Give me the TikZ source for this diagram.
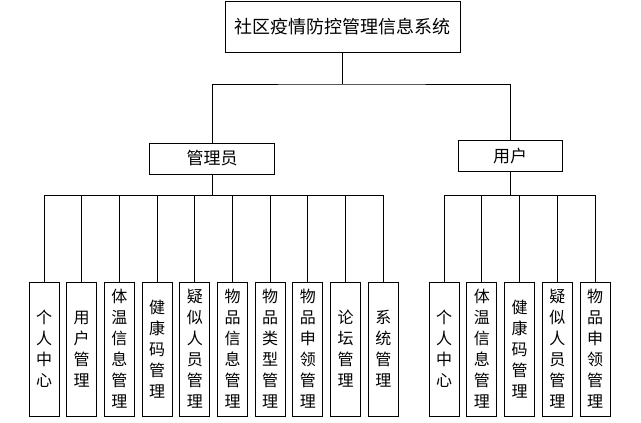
\documentclass[tikz,border=0pt]{standalone}
\usepackage{fontspec}
\setmainfont{Noto Sans CJK SC}
\tikzset{
	sysbox/.style={draw, line width=1pt, inner sep=0pt, minimum width=235pt, minimum height=51pt, font=\fontsize{18}{20}\selectfont},
	rolebox/.style={draw, line width=1pt, inner sep=0pt, minimum height=31pt, font=\fontsize{17}{20}\selectfont},
	funcbox/.style={draw, line width=1pt, inner sep=0pt, minimum width=30pt, minimum height=134pt, align=center, font=\fontsize{16}{21}\selectfont},
	link/.style={line width=1pt}
}
\begin{document}
\begin{tikzpicture}[x=1pt, y=-1pt]
			%%%%% START %%%%%
			
			\useasboundingbox (0, 0) rectangle (641, 423);
			
			\node[sysbox] (sys) at (342.5, 26.5) {社区疫情防控管理信息系统};
			
			\node[rolebox, minimum width=125pt] (admin) at (212, 158.5) {管理员};
			\node[rolebox, minimum width=104pt] (user) at (510, 156) {用户};
			
			\coordinate (top) at (342.5, 84);
			\draw[link] (sys.south) -- (top);
			\draw[link] (admin.north) |- (top) -| (user.north);
			
			\coordinate (abus) at (212, 195);
			\coordinate (ubus) at (510, 195);
			\draw[link] (admin.south) -- (abus);
			\draw[link] (user.south) -- (ubus);
			
			\foreach \txt [count=\i] in {个\\人\\中\\心, 用\\户\\管\\理, 体\\温\\信\\息\\管\\理, 健\\康\\码\\管\\理, 疑\\似\\人\\员\\管\\理, 物\\品\\信\\息\\管\\理, 物\\品\\类\\型\\管\\理, 物\\品\\申\\领\\管\\理, 论\\坛\\管\\理, 系\\统\\管\\理} {
				\node[funcbox] (a\i) at ({44+37.7*(\i-1)}, 349) {\txt};
				\draw[link] (a\i.north) |- (abus);
			}
			
			\foreach \txt [count=\i] in {个\\人\\中\\心, 体\\温\\信\\息\\管\\理, 健\\康\\码\\管\\理, 疑\\似\\人\\员\\管\\理, 物\\品\\申\\领\\管\\理} {
				\node[funcbox] (u\i) at ({444+37.75*(\i-1)}, 349) {\txt};
				\draw[link] (u\i.north) |- (ubus);
			}
			
			%%%%% END %%%%%
\end{tikzpicture}
\end{document}
